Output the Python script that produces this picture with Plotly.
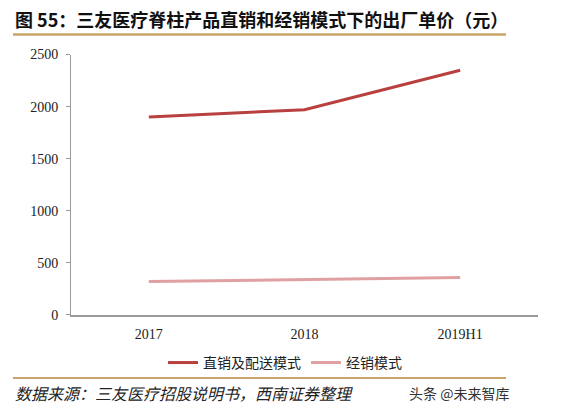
import plotly.graph_objects as go

categories = ["2017", "2018", "2019H1"]
direct_sales = [1900, 1970, 2350]
distribution = [320, 340, 360]
series_names = ["直销及配送模式", "经销模式"]
y_ticks = [0, 500, 1000, 1500, 2000, 2500]

W, H = 572, 419
def px(x): return x / W
def py(y):
    r = (y - 7.5) / 0.963
    return 1 - r / H

fig = go.Figure()
fig.add_trace(go.Scatter(x=categories, y=direct_sales, mode="lines", name=series_names[0],
                         line=dict(color="#b8413f", width=3)))
fig.add_trace(go.Scatter(x=categories, y=distribution, mode="lines", name=series_names[1],
                         line=dict(color="#e0a0a2", width=3)))

cjk = "Noto Sans CJK SC"
serif = "Liberation Serif"

fig.update_layout(
    width=W, height=H,
    margin=dict(l=0, r=0, t=0, b=0),
    paper_bgcolor="white", plot_bgcolor="white",
    showlegend=True,
    legend=dict(orientation="h", x=px(163), y=py(363), xanchor="left", yanchor="middle",
                font=dict(family=cjk, size=14, color="#222"),
                tracegroupgap=0, bgcolor="rgba(0,0,0,0)"),
    xaxis=dict(domain=[px(71), px(538)], type="category", range=[-0.5, 2.5],
               showline=True, linecolor="#999", linewidth=1.5, ticks="",
               ticklabelstandoff=6,
               showgrid=False, tickfont=dict(family=serif, size=14, color="#222")),
    yaxis=dict(domain=[py(315), py(55)], range=[0, 2500], tickvals=y_ticks,
               showline=True, linecolor="#999", linewidth=1, ticks="outside", ticklen=4,
               ticklabelstandoff=5,
               tickcolor="#999", showgrid=False, zeroline=False,
               tickfont=dict(family=serif, size=14, color="#222")),
    shapes=[
        dict(type="line", xref="paper", yref="paper", x0=px(13), x1=px(506), y0=py(35), y1=py(35),
             line=dict(color="#c9a468", width=2.5)),
        dict(type="line", xref="paper", yref="paper", x0=px(13), x1=px(506), y0=py(378), y1=py(378),
             line=dict(color="#c9a468", width=2)),
    ],
    annotations=[
        dict(text="<b>图 55：三友医疗脊柱产品直销和经销模式下的出厂单价（元）</b>", xref="paper", yref="paper",
             x=px(13), y=py(19), xanchor="left", yanchor="middle", showarrow=False,
             font=dict(family=cjk, size=18, color="#111")),
        dict(text="<i>数据来源：三友医疗招股说明书，西南证券整理</i>", xref="paper", yref="paper",
             x=px(13), y=py(393), xanchor="left", yanchor="middle", showarrow=False,
             font=dict(family=cjk, size=16, color="#222")),
        dict(text="头条 @未来智库", xref="paper", yref="paper",
             x=px(511), y=py(393), xanchor="right", yanchor="middle", showarrow=False,
             font=dict(family=cjk, size=14, color="#333")),
    ],
)

fig.write_html("out.html", config={"displayModeBar": False},
               post_script="document.body.style.margin='0';document.body.style.overflow='hidden';")
